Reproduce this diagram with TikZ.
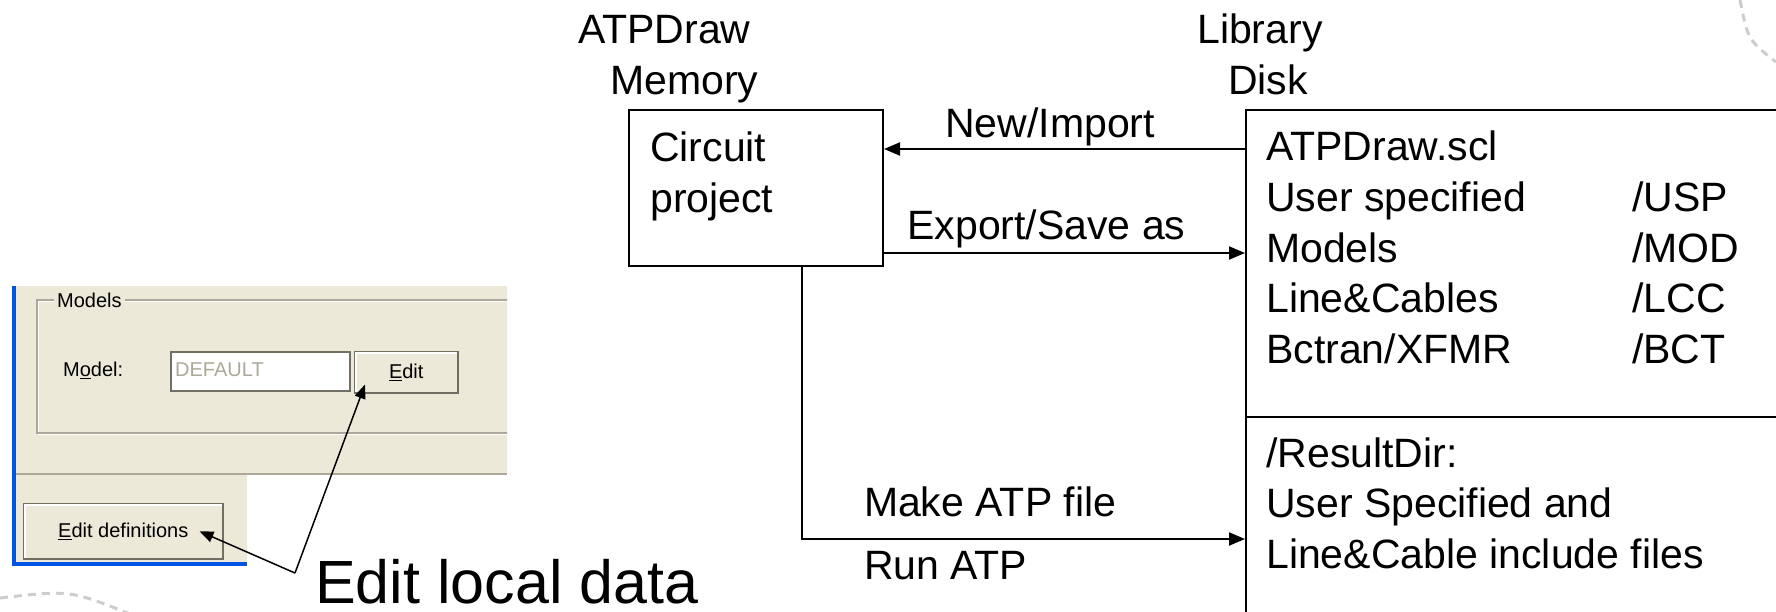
\documentclass[tikz,border=0pt]{standalone}
\usepackage{fontspec}
\setmainfont{Liberation Sans}
\usetikzlibrary{arrows.meta,calc,positioning}
\newcommand{\bigtxt}{\fontsize{41}{50.7}\selectfont}
\newcommand{\guitxt}{\fontsize{20}{24}\selectfont}
\definecolor{xpbeige}{RGB}{236,233,216}
\definecolor{xpblue}{RGB}{0,84,227}
\definecolor{xpgray}{RGB}{172,168,153}
\definecolor{xpdark}{RGB}{113,111,100}
\definecolor{deco}{RGB}{205,205,205}

\begin{document}
\begin{tikzpicture}[x=1pt, y=-1pt, >={Triangle[length=16pt,width=13pt]},
  box/.style={draw, line width=2pt, inner sep=0pt, anchor=north west},
  txt/.style={font=\bigtxt, inner sep=0pt, anchor=base west},
  link/.style={->, line width=2pt},
  gui/.style={font=\guitxt, inner sep=0pt},
  btn/.style={draw=xpdark, fill=xpbeige, line width=1.5pt, inner sep=0pt, anchor=north west, font=\guitxt},
  callout/.style={-{Triangle[length=14pt,width=11pt]}, line width=1.5pt}]
  \useasboundingbox (0,0) rectangle (1776,611);

  % memory side
  \node[txt] (atpd) at (578,43) {ATPDraw};
  \node[txt] (mem) at (610,94) {Memory};
  \node[box, minimum width=254pt, minimum height=156pt] (circ) at (628,109) {};
  \node[txt] (circ1) at (650,161) {Circuit};
  \node[txt] (circ2) at (650,212) {project};

  % disk side
  \node[txt] (lib) at (1197,43) {Library};
  \node[txt] (disk) at (1228,94) {Disk};
  \node[box, minimum width=560pt, minimum height=307pt] (libbox) at (1245,109) {};
  \node[box, minimum width=560pt, minimum height=244pt] (resbox) at (1245,416) {};
  \foreach \y/\name [count=\i] in {160/ATPDraw.scl, 211/User specified, 262/Models, 312/Line\&Cables, 363/{Bctran/XFMR}}
    \node[txt] (scl\i) at (1266,\y) {\name};
  \foreach \y/\dir in {211/USP, 262/MOD, 312/LCC, 363/BCT}
    \node[txt] (dir\dir) at (1632,\y) {/\dir};
  \foreach \y/\name [count=\i] in {467/{/ResultDir:}, 517/User Specified and, 568/Line\&Cable include files}
    \node[txt] (res\i) at (1266,\y) {\name};

  % connectors
  \coordinate (impend) at ([yshift=-40pt]circ.north east);
  \coordinate (expstart) at ([yshift=14pt]circ.south east);
  \draw[link] (impend -| libbox.west) -- (impend)
    node[pos=0.54, txt, anchor=base, yshift=12pt] (imp) {New/Import};
  \draw[link] (expstart) -- (expstart -| libbox.west)
    node[pos=0.45, txt, anchor=base, yshift=14pt] (exp) {Export/Save as};
  \draw[link] ([xshift=46pt]circ.south) |- (resbox.west)
    node[pos=0.5, txt, xshift=61pt, yshift=23pt] (mk) {Make ATP file}
    node[pos=0.5, txt, xshift=61pt, yshift=-40pt] (run) {Run ATP};

  % screenshot
  \begin{scope}
    \clip (16,286) rectangle (507,566);
    \fill[xpbeige] (16,286) -| (507,474) -| (247,562) -| cycle;
    \draw[xpgray, line width=1.5pt] (16,474) -- (507,474);
    \draw[white, line width=1.5pt] (38.5,301.5) rectangle (530,434.5);
    \draw[xpgray, line width=1.5pt] (37,300) rectangle (528,433);
    \node[gui, fill=xpbeige, inner xsep=3pt, anchor=west] (grp) at (54,300) {Models};
    \node[gui, anchor=west] (mdl) at (63,370) {M\underline{o}del:};
    \node[draw=xpdark, fill=white, line width=1.5pt, anchor=north west,
      minimum width=179pt, minimum height=39pt] (field) at (170,351) {};
    \node[gui, text=xpgray, anchor=west] (deflt) at (175,370) {DEFAULT};
    \node[btn, minimum width=103pt, minimum height=41pt] (editbtn) at (354,351) {\underline{E}dit};
    \node[btn, minimum width=199pt, minimum height=55pt] (defbtn) at (23,503) {\underline{E}dit definitions};
    \draw[white, line width=1.5pt] ([shift={(2pt,2pt)}]editbtn.south west) |- ([shift={(-2pt,-2pt)}]editbtn.north east);
    \draw[white, line width=1.5pt] ([shift={(2pt,2pt)}]defbtn.south west) |- ([shift={(-2pt,-2pt)}]defbtn.north east);
  \end{scope}
  \draw[xpblue, line width=4pt] (14,286) |- (247,564);

  % callout
  \node[font=\fontsize{61}{70}\selectfont, inner sep=0pt, anchor=base west] (local) at (315,603) {Edit local data};
  \coordinate (fork) at (295,573);
  \draw[callout] (fork) -- ([xshift=11pt,yshift=9pt]editbtn.south west);
  \draw[callout] (fork) -- ([xshift=-24pt]defbtn.east);

  % template arcs
  \draw[deco, line width=3pt, dash pattern=on 8pt off 6pt] (1740,0) .. controls (1748,40) .. (1776,62);
  \draw[deco, line width=3pt, dash pattern=on 8pt off 6pt] (0,598) .. controls (70,590) .. (130,614);
\end{tikzpicture}
\end{document}
